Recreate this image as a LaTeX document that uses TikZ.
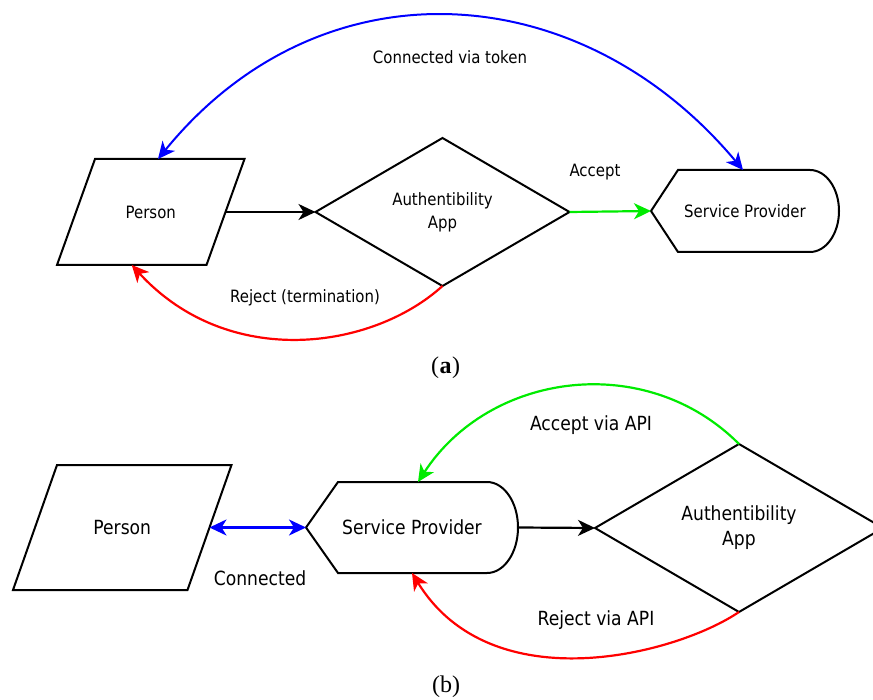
\documentclass[tikz,border=0pt]{standalone}
\usepackage{fontspec}
\setmainfont{DejaVu Sans}[FakeStretch=0.88]
\newfontfamily\capfont{Liberation Serif}
\usetikzlibrary{shapes.geometric,arrows.meta,calc}
\definecolor{cgreen}{RGB}{0,235,0}
\definecolor{cblue}{RGB}{0,0,255}
\definecolor{cred}{RGB}{255,0,0}
\begin{document}
\begin{tikzpicture}[x=1pt,y=1pt,
  shapeline/.style={line width=2pt, line join=miter},
  txa/.style={font=\fontsize{17}{23}\selectfont, align=center, inner sep=0pt},
  txb/.style={font=\fontsize{19.5}{25}\selectfont, align=center, inner sep=0pt},
  capt/.style={font=\capfont\fontsize{24}{26}\selectfont, inner sep=0pt},
  box/.style={rectangle, inner sep=0pt, outer sep=0pt},
  dia/.style={diamond, draw, line width=2pt, inner sep=0pt, outer sep=0pt, align=center},
  conn/.style={line width=2.2pt, -{Stealth[length=17pt,width=16pt,inset=5pt]}},
  biconn/.style={line width=2.2pt, {Stealth[length=17pt,width=16pt,inset=5pt]}-{Stealth[length=17pt,width=16pt,inset=5pt]}},
]
\useasboundingbox (0,0) rectangle (873,-700);

% ---------------- (a) ----------------
\node[box, txa, minimum width=149.5pt, minimum height=106pt] (pa) at (150.75,-212) {Person};
\draw[shapeline] ($(pa.north west)+(19,0)$) -- ($(pa.north east)+(19,0)$)
  -- ($(pa.south east)+(-19,0)$) -- ($(pa.south west)+(-19,0)$) -- cycle;

\node[dia, txa, minimum width=254pt, minimum height=148pt] (da) at (442.5,-212) {Authentibility\\App};

\node[box, txa, minimum width=188pt, minimum height=82pt] (spa) at (745,-211) {Service Provider};
\draw[shapeline] (spa.west) -- ($(spa.north west)+(27,0)$) -- ($(spa.north east)+(-29,0)$)
  arc[start angle=90, end angle=-90, x radius=29pt, y radius=41pt]
  -- ($(spa.south west)+(27,0)$) -- cycle;

\draw[conn] (pa.east) -- (da.west);
\draw[conn, cgreen] (da.east) -- (spa.west);
\draw[biconn, cblue, line width=2pt] ([xshift=7.25pt]pa.north)
  .. controls ($(pa.north)+(170.25,200)$) and ($(spa.north)+(-165,195)$) .. ([xshift=-2pt]spa.north);
\draw[conn, cred] (da.south)
  .. controls ($(da.south)+(-70.5,-64)$) and ($(pa.south)+(77.25,-105)$) .. ([xshift=-19pt]pa.south);

\node[txa] (la1) at (450,-57) {Connected via token};
\node[txa] (la2) at (595,-172) {Accept};
\node[txa] (la3) at (305,-298) {Reject (termination)};
\node[capt] (capa) at (445.5,-368) {(\kern0.5pt\textbf{a}\kern0.5pt)};

% ---------------- (b) ----------------
\node[box, txb, minimum width=174.5pt, minimum height=125pt] (pb) at (122.25,-527.5) {Person};
\draw[shapeline] ($(pb.north west)+(22,0)$) -- ($(pb.north east)+(22,0)$)
  -- ($(pb.south east)+(-22,0)$) -- ($(pb.south west)+(-22,0)$) -- cycle;

\node[box, txb, minimum width=212pt, minimum height=91pt] (spb) at (412,-527.5) {Service Provider};
\draw[shapeline] (spb.west) -- ($(spb.north west)+(32,0)$) -- ($(spb.north east)+(-31,0)$)
  arc[start angle=90, end angle=-90, x radius=31pt, y radius=45.5pt]
  -- ($(spb.south west)+(32,0)$) -- cycle;

\node[dia, txb, minimum width=288pt, minimum height=168pt] (db) at (739,-528) {Authentibility\\App};

\draw[biconn, cblue] (pb.east) -- (spb.west);
\draw[conn] (spb.east) -- (db.west);
\draw[conn, cgreen] (db.north)
  .. controls ($(db.north)+(-92.8,93.3)$) and ($(spb.north)+(77.7,110.4)$) .. ([xshift=6pt]spb.north);
\draw[conn, cred] (db.south)
  .. controls ($(db.south)+(-62,-42)$) and ($(spb.south)+(80,-130)$) .. (spb.south);

\node[txb] (lb1) at (591,-425) {Accept via API};
\node[txb] (lb2) at (260,-578) {Connected};
\node[txb] (lb3) at (596,-620) {Reject via API};
\node[capt] (capb) at (446,-687) {(b)};
\end{tikzpicture}
\end{document}
